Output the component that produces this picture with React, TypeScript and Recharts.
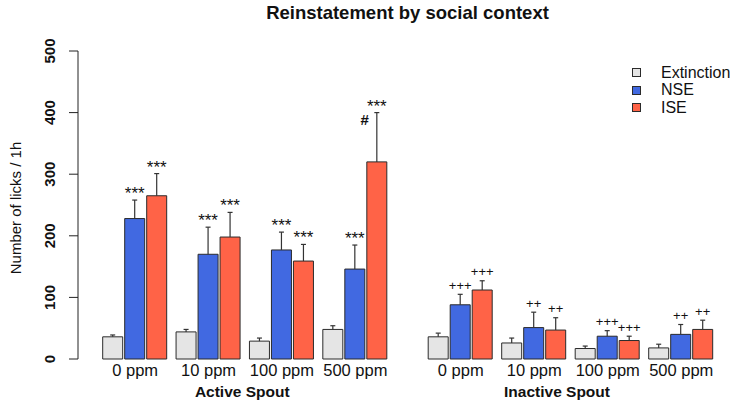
import React from "react";
import {
  BarChart,
  Bar,
  XAxis,
  YAxis,
  Legend,
  Label,
  Rectangle,
} from "recharts";

const doses = ["0 ppm", "10 ppm", "100 ppm", "500 ppm"];
const seriesNames = ["Extinction", "NSE", "ISE"];
const yTicks = [0, 100, 200, 300, 400, 500];

// Active spout
const extActive = [36, 44, 29, 48];
const extActiveErr = [3, 4, 5, 6];
const nseActive = [228, 170, 177, 146];
const nseActiveErr = [30, 44, 29, 39];
const iseActive = [265, 198, 159, 320];
const iseActiveErr = [36, 40, 27, 80];
const nseActiveMarks = ["***", "***", "***", "***"];
const iseActiveMarks = ["***", "***", "***", "***"];
const iseActiveHash = ["", "", "", "#"];

// Inactive spout
const extInactive = [36, 26, 17, 18];
const extInactiveErr = [6, 8, 4, 6];
const nseInactive = [88, 51, 37, 40];
const nseInactiveErr = [17, 25, 9, 16];
const iseInactive = [112, 47, 30, 48];
const iseInactiveErr = [15, 20, 7, 15];
const nseInactiveMarks = ["+++", "++", "+++", "++"];
const iseInactiveMarks = ["+++", "++", "+++", "++"];

const COLORS = { ext: "#E5E5E5", nse: "#4169E1", ise: "#FF6347" };
const EDGE = "#2b2b2b";
const FONT = "'Liberation Sans', Arial, Helvetica, sans-serif";

const activeData = doses.map((d, i) => ({
  dose: d,
  ext: extActive[i],
  extErr: extActiveErr[i],
  nse: nseActive[i],
  nseErr: nseActiveErr[i],
  nseMark: nseActiveMarks[i],
  ise: iseActive[i],
  iseErr: iseActiveErr[i],
  iseMark: iseActiveMarks[i],
  iseHash: iseActiveHash[i],
}));

const inactiveData = doses.map((d, i) => ({
  dose: d,
  ext: extInactive[i],
  extErr: extInactiveErr[i],
  nse: nseInactive[i],
  nseErr: nseInactiveErr[i],
  nseMark: nseInactiveMarks[i],
  ise: iseInactive[i],
  iseErr: iseInactiveErr[i],
  iseMark: iseInactiveMarks[i],
  iseHash: "",
}));

// bar + upward error bar + significance marks
function makeShape(key: string, markStyle: "star" | "plus") {
  return (props: any) => {
    const { x, y, width, height, fill, payload } = props;
    const value = payload[key];
    const err = payload[key + "Err"] || 0;
    const mark = payload[key + "Mark"];
    const hash = payload[key + "Hash"];
    const pxPerUnit = value ? height / value : 0;
    const top = y - err * pxPerUnit;
    const cx = x + width / 2;
    return (
      <g>
        <Rectangle
          x={x}
          y={y}
          width={width}
          height={height}
          fill={fill}
          stroke={EDGE}
          strokeWidth={1}
        />
        <line x1={cx} x2={cx} y1={y} y2={top} stroke="#333" strokeWidth={1.2} />
        <line x1={cx - 2.5} x2={cx + 2.5} y1={top} y2={top} stroke="#333" strokeWidth={1.2} />
        {mark ? (
          markStyle === "star" ? (
            <text x={cx} y={top - 1} textAnchor="middle" fontSize={17} fill="#111">
              {mark}
            </text>
          ) : (
            <text x={cx} y={top - 4.5} textAnchor="middle" fontSize={13} fill="#111">
              {mark}
            </text>
          )
        ) : null}
        {hash ? (
          <text x={cx - 8} y={top + 12.5} textAnchor="end" fontSize={15} fontWeight="bold" fill="#111">
            {hash}
          </text>
        ) : null}
      </g>
    );
  };
}

function YTick(props: any) {
  const { x, y, payload } = props;
  const tx = x - 12;
  return (
    <text
      x={tx}
      y={y}
      transform={`rotate(-90 ${tx} ${y})`}
      textAnchor="middle"
      fontSize={15}
      fontWeight="bold"
      fill="#111"
    >
      {payload.value}
    </text>
  );
}

function XTick(props: any) {
  const { x, y, payload } = props;
  return (
    <text x={x} y={y + 16.5} textAnchor="middle" fontSize={16.5} fill="#111">
      {payload.value}
    </text>
  );
}

function groupTitle(text: string, padLeft: number, dx: number) {
  return (props: any) => {
    const vb = props.viewBox;
    const cx = vb.x + padLeft + (vb.width - padLeft) / 2 + dx;
    return (
      <text x={cx} y={vb.y + 38} textAnchor="middle" fontSize={15.5} fontWeight="bold" fill="#111">
        {text}
      </text>
    );
  };
}

function LegendBox(props: any) {
  const items = [...(props.payload || [])].sort(
    (a: any, b: any) => seriesNames.indexOf(a.value) - seriesNames.indexOf(b.value)
  );
  return (
    <div style={{ fontFamily: FONT }}>
      {items.map((p: any) => (
        <div key={p.value} style={{ display: "flex", alignItems: "center", height: 17.5 }}>
          <span
            style={{
              display: "inline-block",
              boxSizing: "border-box",
              width: 9,
              height: 9,
              background: p.color,
              border: `1px solid ${EDGE}`,
            }}
          />
          <span style={{ marginLeft: 20, fontSize: 16, color: "#111" }}>{p.value}</span>
        </div>
      ))}
    </div>
  );
}

const MARGIN_TOP = 51;
const AXIS_H = 47;
const PAD_LEFT = 20.5;

export default function App() {
  return (
    <div
      style={{
        position: "absolute",
        left: 0,
        top: 0,
        width: 734,
        height: 406,
        background: "#fff",
        fontFamily: FONT,
      }}
    >
      <svg width={734} height={406} style={{ position: "absolute", left: 0, top: 0 }}>
        <text x={407.5} y={18.5} textAnchor="middle" fontSize={18.5} fontWeight="bold" fill="#111">
          Reinstatement by social context
        </text>
        <text
          x={21}
          y={208}
          transform="rotate(-90 21 208)"
          textAnchor="middle"
          fontSize={15}
          fill="#111"
        >
          Number of licks / 1h
        </text>
      </svg>

      <div style={{ position: "absolute", left: 0, top: 0 }}>
        <BarChart
          width={392}
          height={406}
          data={activeData}
          margin={{ top: MARGIN_TOP, right: 0, bottom: 0, left: 18 }}
          barCategoryGap={4.2}
          barGap={2}
        >
          <XAxis
            dataKey="dose"
            axisLine={false}
            tickLine={false}
            tickSize={0}
            tickMargin={0}
            height={AXIS_H}
            padding={{ left: PAD_LEFT, right: 0 }}
            tick={<XTick />}
            interval={0}
          >
            <Label content={groupTitle("Active Spout", PAD_LEFT, -3)} />
          </XAxis>
          <YAxis
            domain={[0, 500]}
            ticks={yTicks}
            width={60}
            tickSize={9}
            axisLine={{ stroke: "#222" }}
            tickLine={{ stroke: "#222" }}
            tick={<YTick />}
          />
          <Bar dataKey="ext" name="Extinction" fill={COLORS.ext} shape={makeShape("ext", "star")} isAnimationActive={false} />
          <Bar dataKey="nse" name="NSE" fill={COLORS.nse} shape={makeShape("nse", "star")} isAnimationActive={false} />
          <Bar dataKey="ise" name="ISE" fill={COLORS.ise} shape={makeShape("ise", "star")} isAnimationActive={false} />
        </BarChart>
      </div>

      <div style={{ position: "absolute", left: 424, top: 0 }}>
        <BarChart
          width={294}
          height={406}
          data={inactiveData}
          margin={{ top: MARGIN_TOP, right: 0, bottom: 0, left: 0 }}
          barCategoryGap={4.2}
          barGap={2}
        >
          <XAxis
            dataKey="dose"
            axisLine={false}
            tickLine={false}
            tickSize={0}
            tickMargin={0}
            height={AXIS_H}
            tick={<XTick />}
            interval={0}
          >
            <Label content={groupTitle("Inactive Spout", 0, -14)} />
          </XAxis>
          <YAxis hide domain={[0, 500]} ticks={yTicks} />
          <Legend
            layout="vertical"
            align="center"
            verticalAlign="middle"
            content={<LegendBox />}
            wrapperStyle={{ top: 64, left: 208, width: 110 }}
          />
          <Bar dataKey="ext" name="Extinction" fill={COLORS.ext} shape={makeShape("ext", "plus")} isAnimationActive={false} />
          <Bar dataKey="nse" name="NSE" fill={COLORS.nse} shape={makeShape("nse", "plus")} isAnimationActive={false} />
          <Bar dataKey="ise" name="ISE" fill={COLORS.ise} shape={makeShape("ise", "plus")} isAnimationActive={false} />
        </BarChart>
      </div>
    </div>
  );
}
